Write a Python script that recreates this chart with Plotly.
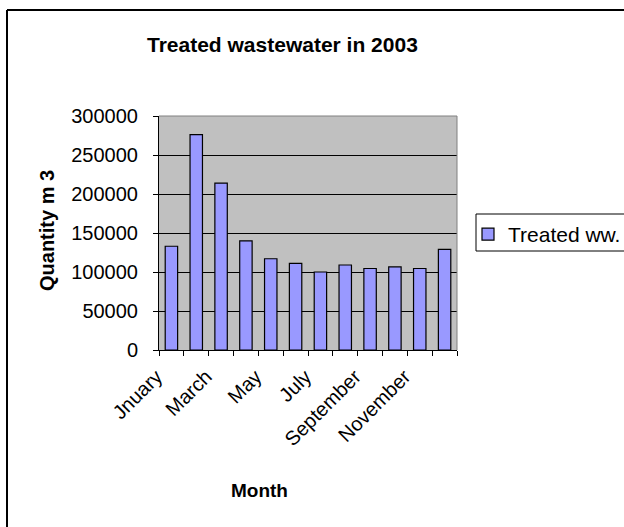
import plotly.graph_objects as go

# Monthly treated wastewater volumes, 2003
months = ["January", "February", "March", "April", "May", "June",
          "July", "August", "September", "October", "November", "December"]
tick_labels = ["Jnuary", "", "March", "", "May", "",
               "July", "", "September", "", "November", ""]
treated = [133000, 276000, 214000, 140000, 117000, 111000,
           100000, 109000, 104500, 106500, 104500, 129000]
y_ticks = [0, 50000, 100000, 150000, 200000, 250000, 300000]

FONT = "Arial, Liberation Sans, sans-serif"

fig = go.Figure()
fig.add_trace(go.Bar(
    x=months, y=treated, name="Treated ww.",
    marker=dict(color="#9999FF", line=dict(color="#000000", width=1.2)),
))

# plot area in pixels: x 159..457, y 116..350
L, R, T, B = 159, 457, 116, 350
W, H = 624, 527

def px(x):
    return (x - L) / (R - L)

def py(y):
    return (B - y) / (B - T)

fig.update_layout(
    width=W, height=H,
    margin=dict(l=L, r=W - R, t=T, b=H - B, pad=0, autoexpand=False),
    paper_bgcolor="#FFFFFF",
    plot_bgcolor="#C0C0C0",
    font=dict(family=FONT, color="#000000", size=20),
    bargap=0.5,
    showlegend=True,
    legend=dict(
        x=px(468), y=py(214), xanchor="left", yanchor="top",
        borderwidth=0, bgcolor="rgba(0,0,0,0)",
        font=dict(family=FONT, size=21),
    ),
    xaxis=dict(
        type="category",
        tickmode="array", tickvals=months, ticktext=tick_labels,
        tickangle=-45, tickson="boundaries",
        ticks="outside", ticklen=5, tickcolor="#000000",
        ticklabelshift=-15, ticklabelstandoff=6,
        showline=True, linecolor="#000000", linewidth=1,
        showgrid=False, zeroline=False,
        tickfont=dict(family=FONT, size=20),
    ),
    yaxis=dict(
        range=[0, 300000], tickmode="array", tickvals=y_ticks,
        ticktext=[str(v) for v in y_ticks],
        ticks="outside", ticklen=5, tickcolor="#000000",
        ticklabelstandoff=11,
        showline=True, linecolor="#000000", linewidth=1,
        showgrid=True, gridcolor="#000000", gridwidth=1,
        zeroline=False, tickfont=dict(family=FONT, size=20),
    ),
    annotations=[
        dict(text="<b>Treated wastewater in 2003</b>", x=px(282), y=py(44),
             xref="paper", yref="paper", showarrow=False,
             xanchor="center", yanchor="middle",
             font=dict(family=FONT, size=21)),
        dict(text="<b>Month</b>", x=px(259), y=py(490),
             xref="paper", yref="paper", showarrow=False,
             xanchor="center", yanchor="middle",
             font=dict(family=FONT, size=19)),
        dict(text="<b>Quantity m 3</b>", x=px(47), y=py(231), textangle=-90,
             xref="paper", yref="paper", showarrow=False,
             xanchor="center", yanchor="middle",
             font=dict(family=FONT, size=20)),
    ],
    shapes=[
        # plot-area frame (top and right edges)
        dict(type="line", xref="paper", yref="paper", x0=0, x1=1, y0=1, y1=1,
             line=dict(color="#808080", width=1)),
        dict(type="line", xref="paper", yref="paper", x0=1, x1=1, y0=0, y1=1,
             line=dict(color="#808080", width=1)),
        # legend box, open past the right edge
        dict(type="rect", xref="paper", yref="paper", x0=px(476), x1=px(700),
             y0=py(251), y1=py(214), fillcolor="#FFFFFF",
             line=dict(color="#000000", width=1)),
        # chart-area border
        dict(type="line", xref="paper", yref="paper", x0=px(7), x1=px(700),
             y0=py(10), y1=py(10), line=dict(color="#000000", width=2)),
        dict(type="line", xref="paper", yref="paper", x0=px(7), x1=px(7),
             y0=py(10), y1=py(600), line=dict(color="#000000", width=2)),
    ],
)

fig.write_html("out.html")
